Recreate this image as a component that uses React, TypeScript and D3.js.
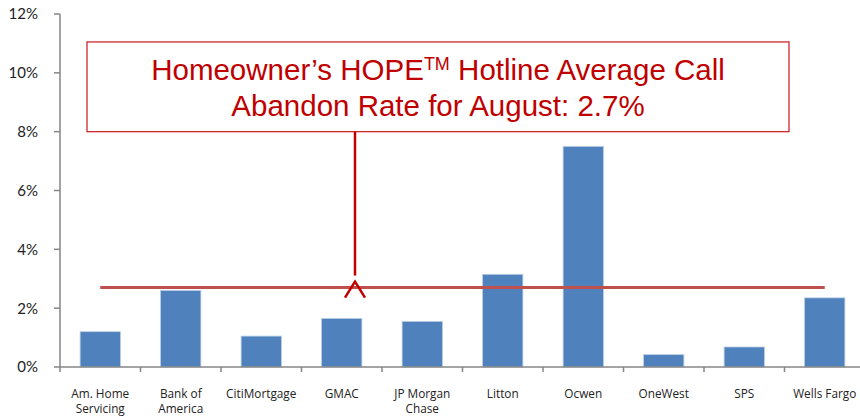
import React from 'react';
import * as d3 from 'd3';

const servicers = ['Am. Home|Servicing', 'Bank of|America', 'CitiMortgage', 'GMAC', 'JP Morgan|Chase', 'Litton', 'Ocwen', 'OneWest', 'SPS', 'Wells Fargo'];
const abandonRates = [1.2, 2.6, 1.05, 1.65, 1.55, 3.15, 7.5, 0.42, 0.68, 2.35];
const averageRate = 2.7;
const yTicks = [0, 2, 4, 6, 8, 10, 12];
const titleLine1 = ['Homeowner\u2019s HOPE', 'TM', ' Hotline Average Call'];
const titleLine2 = 'Abandon Rate for August: 2.7%';

const W = 860;
const H = 416;
const margin = { top: 14, right: -5, bottom: 49, left: 60 };

const App = () => {
    const x = d3.scaleBand<string>()
        .domain(servicers)
        .range([margin.left, W - margin.right])
        .paddingInner(0.5)
        .paddingOuter(0.25);
    const band = d3.scaleBand<string>().domain(servicers).range([margin.left, W - margin.right]);
    const y = d3.scaleLinear().domain([0, 12]).range([H - margin.bottom, margin.top]);

    const axisColor = '#868686';
    const red = '#C00000';
    const first = servicers[0];
    const last = servicers[servicers.length - 1];
    const lineX1 = band(first)! + band.bandwidth() / 2;
    const lineX2 = band(last)! + band.bandwidth() / 2;
    const avgY = y(averageRate);

    // annotation box and arrow
    const boxX = 87, boxW = 702;
    const boxTop = y(11.05), boxBottom = y(8);
    const arrowX = 355;
    const tipY = avgY - 6;

    return (
        <svg width={W} height={H} style={{ position: 'fixed', left: 0, top: 0, background: '#fff' }}>
            {/* y axis */}
            <line x1={margin.left} x2={margin.left} y1={y(12)} y2={y(0)} stroke={axisColor} strokeWidth={1.5} />
            {yTicks.map(t => (
                <g key={t}>
                    <line x1={margin.left - 6} x2={margin.left} y1={y(t)} y2={y(t)} stroke={axisColor} strokeWidth={1.5} />
                    <text x={38} y={y(t)} dy="0.36em" textAnchor="end" fontFamily="Lato, 'Open Sans', sans-serif" fontSize={15} fill="#222">{t}%</text>
                </g>
            ))}

            {/* bars */}
            {servicers.map((s, i) => (
                <rect key={s} x={x(s)} y={y(abandonRates[i])} width={x.bandwidth()} height={y(0) - y(abandonRates[i])}
                    fill="#4F81BD" stroke="#B8CCE4" strokeWidth={0.8} />
            ))}

            {/* x axis */}
            <line x1={margin.left} x2={W} y1={y(0)} y2={y(0)} stroke={axisColor} strokeWidth={1.5} />
            {servicers.map(s => (
                <line key={'t' + s} x1={band(s)!} x2={band(s)!} y1={y(0)} y2={y(0) + 5} stroke={axisColor} strokeWidth={1.5} />
            ))}
            {servicers.map(s => (
                <text key={'l' + s} x={band(s)! + band.bandwidth() / 2} y={398} textAnchor="middle"
                    fontFamily="'Open Sans', Lato, sans-serif" fontSize={11.8} fill="#222">
                    {s.split('|').map((p, j) => (
                        <tspan key={j} x={band(s)! + band.bandwidth() / 2} dy={j === 0 ? 0 : 15}>{p}</tspan>
                    ))}
                </text>
            ))}

            {/* average line */}
            <line x1={lineX1} x2={lineX2} y1={avgY} y2={avgY} stroke="#C0504D" strokeWidth={3} />

            {/* callout */}
            <rect x={boxX} y={boxTop} width={boxW} height={boxBottom - boxTop} fill="#fff" stroke="#D0272E" strokeWidth={1.3} />
            <line x1={arrowX} x2={arrowX} y1={boxBottom} y2={avgY - 12} stroke={red} strokeWidth={2.5} />
            <polyline points={`${arrowX - 10},${tipY + 16} ${arrowX},${tipY} ${arrowX + 10},${tipY + 16}`} fill="none" stroke={red} strokeWidth={2.5} />
            <text x={boxX + boxW / 2} y={80} textAnchor="middle" fontFamily="'Liberation Sans', Arial, sans-serif" fontSize={29.5} fill={red}>
                {titleLine1[0]}
                <tspan fontSize={18} dy={-10}>{titleLine1[1]}</tspan>
                <tspan dy={10}>{titleLine1[2]}</tspan>
            </text>
            <text x={boxX + boxW / 2} y={116} textAnchor="middle" fontFamily="'Liberation Sans', Arial, sans-serif" fontSize={29.5} fill={red}>
                {titleLine2}
            </text>
        </svg>
    );
};

export default App;
